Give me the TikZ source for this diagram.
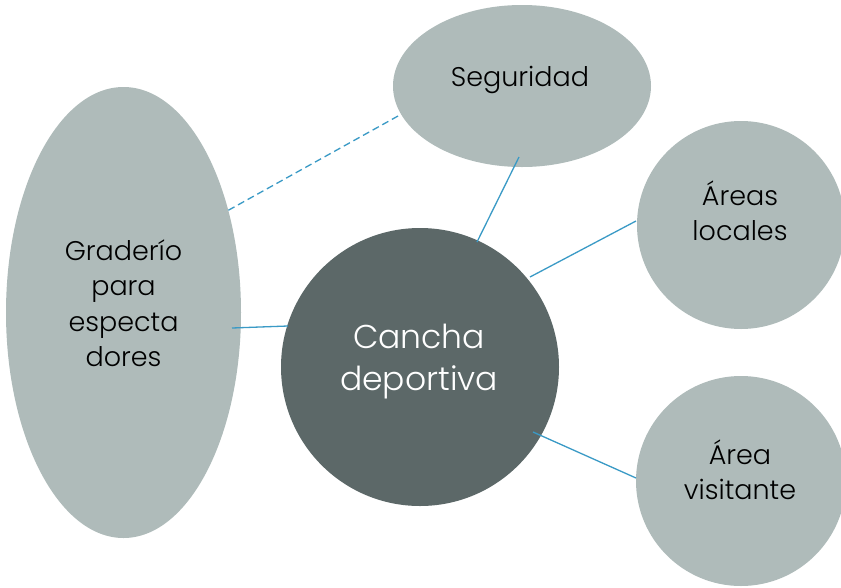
\documentclass[tikz,border=0pt]{standalone}
\usepackage{fontspec}
\setmainfont{Poppins}[UprightFont=* Light]
\usetikzlibrary{shapes.geometric}
\definecolor{lightfill}{RGB}{175,187,186}
\definecolor{darkfill}{RGB}{92,104,104}
\definecolor{linkblue}{RGB}{58,154,198}
\begin{document}
\begin{tikzpicture}[x=1pt,y=-1pt,
  bubble/.style={ellipse,inner sep=0pt,fill=lightfill,draw=none},
  hub/.style={circle,inner sep=0pt,fill=darkfill,draw=none},
  smalltext/.style={align=center,font=\fontsize{27}{35.5}\selectfont,text=black,inner sep=0pt},
  bigtext/.style={align=center,font=\fontsize{33}{42}\selectfont,text=white,inner sep=0pt},
  link/.style={draw=linkblue,line width=1.3pt},
  dlink/.style={draw=linkblue,line width=1.3pt,dash pattern=on 7pt off 4pt}]
\useasboundingbox (0,0) rectangle (841,587);
\fill[white] (0,0) rectangle (841,587);
% shapes
\node[bubble,minimum width=235pt,minimum height=451pt] (grad) at (123.5,312.5) {};
\node[bubble,minimum width=258pt,minimum height=162pt] (seg) at (522,86) {};
\node[bubble,circle,minimum size=208pt] (loc) at (741,225) {};
\node[bubble,circle,minimum size=210pt] (vis) at (741,481) {};
\node[hub,minimum size=278pt] (can) at (420,367) {};
% texts
\node[smalltext] (gradt) at (123.5,303) {Graderío\\para\\especta\\dores};
\node[smalltext] (segt) at (520,80) {Seguridad};
\node[smalltext] (loct) at (740,211) {Áreas\\locales};
\node[smalltext] (vist) at (740,470) {Área\\visitante};
\node[bigtext] (cant) at (419,362) {Cancha\\deportiva};
% connector end points
\coordinate (segA) at (519,157);
\coordinate (canA) at (477,242);
\coordinate (segB) at (398,116);
\coordinate (gradB) at (227,211);
\coordinate (gradC) at (232,328);
\coordinate (canC) at (288,326);
\coordinate (canD) at (530,277);
\coordinate (locD) at (636,221);
\coordinate (canE) at (533,432);
\coordinate (visE) at (636,478);
% connectors
\draw[link] (segA) -- (canA);
\draw[dlink] (segB) -- (gradB);
\draw[link] (gradC) -- (canC);
\draw[link] (canD) -- (locD);
\draw[link] (canE) -- (visE);
\end{tikzpicture}
\end{document}
